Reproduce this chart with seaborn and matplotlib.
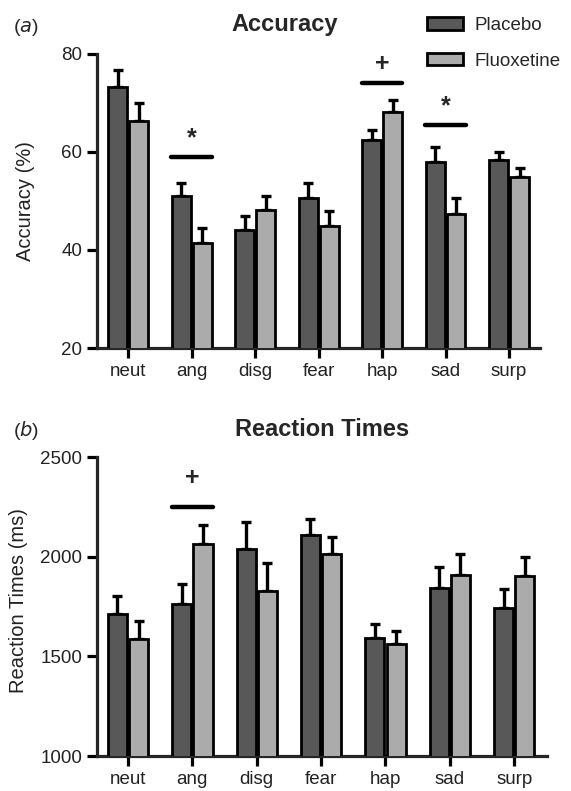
import numpy as np
import pandas as pd
import matplotlib
matplotlib.use("Agg")
import matplotlib.pyplot as plt
import seaborn as sns

# data
emotions = ['neut', 'ang', 'disg', 'fear', 'hap', 'sad', 'surp']
groups = ['Placebo', 'Fluoxetine']

acc_placebo = [73.3, 51.0, 44.1, 50.6, 62.4, 58.0, 58.4]
acc_fluox = [66.3, 41.4, 48.2, 44.9, 68.2, 47.3, 54.9]
acc_placebo_sem = [3.4, 2.7, 2.9, 3.1, 2.1, 3.0, 1.6]
acc_fluox_sem = [3.7, 3.1, 2.8, 3.1, 2.4, 3.3, 1.8]

rt_placebo = [1715, 1765, 2040, 2110, 1590, 1845, 1745]
rt_fluox = [1585, 2065, 1830, 2015, 1560, 1910, 1905]
rt_placebo_sem = [90, 100, 135, 80, 70, 105, 95]
rt_fluox_sem = [90, 95, 140, 85, 65, 105, 95]

# significance marks: emotion, symbol, height of bar
acc_sig_emo = ['ang', 'hap', 'sad']
acc_sig_sym = ['*', '+', '*']
acc_sig_y = [59.0, 74.1, 65.5]
rt_sig_emo = ['ang']
rt_sig_sym = ['+']
rt_sig_y = [2250]

dark = '#585858'
light = '#ababab'

sns.set_style('ticks')
plt.rcParams['font.family'] = ['Liberation Sans', 'DejaVu Sans']
plt.rcParams['axes.linewidth'] = 2.3

fig = plt.figure(figsize=(5.71, 7.91), dpi=100)
ax_a = fig.add_axes([0.170, 0.560, 0.776, 0.372])
ax_b = fig.add_axes([0.170, 0.0442, 0.788, 0.378])


def make_df(p, f, ps, fs):
    return pd.DataFrame({
        'emotion': emotions * 2,
        'group': [groups[0]] * len(emotions) + [groups[1]] * len(emotions),
        'value': p + f,
        'sem': ps + fs,
    })


def draw_panel(ax, df, ylim, yticks, ylabel, xlim):
    sns.barplot(data=df, x='emotion', y='value', hue='group', order=emotions,
                hue_order=groups, palette=[dark, light], edgecolor='black',
                linewidth=2, errorbar=None, width=0.66, gap=0.1, ax=ax,
                legend=True, zorder=3)
    for cont, g in zip(ax.containers, groups):
        sub = df[df.group == g].set_index('emotion').loc[emotions]
        xs = [b.get_x() + b.get_width() / 2 for b in cont]
        ax.errorbar(xs, sub['value'].values,
                    yerr=[np.zeros(len(xs)), sub['sem'].values],
                    fmt='none', ecolor='black', elinewidth=2.4,
                    capsize=3.5, capthick=2.4, zorder=2)
    ax.set_ylim(*ylim)
    ax.set_xlim(*xlim)
    ax.set_yticks(yticks)
    ax.set_xlabel('')
    ax.set_ylabel(ylabel, fontsize=14.5, color='#222222')
    ax.tick_params(axis='both', length=7, width=2.3, labelsize=13.5,
                   colors='black', labelcolor='#222222')
    sns.despine(ax=ax)


def draw_sig(ax, emos, syms, ys, offset):
    for emo, sym, y in zip(emos, syms, ys):
        i = emotions.index(emo)
        ax.plot([i - 0.32, i + 0.32], [y, y], color='black', lw=3.2,
                clip_on=False)
        ax.text(i, y + offset, sym, ha='center', va='center', fontsize=18,
                fontweight='bold', clip_on=False)


df_a = make_df(acc_placebo, acc_fluox, acc_placebo_sem, acc_fluox_sem)
draw_panel(ax_a, df_a, (20, 80), [20, 40, 60, 80], 'Accuracy (%)',
           (-0.49, 6.49))
df_b = make_df(rt_placebo, rt_fluox, rt_placebo_sem, rt_fluox_sem)
draw_panel(ax_b, df_b, (1000, 2500), [1000, 1500, 2000, 2500],
           'Reaction Times (ms)', (-0.48, 6.51))

draw_sig(ax_a, acc_sig_emo, acc_sig_sym, acc_sig_y, 3.8)
draw_sig(ax_b, rt_sig_emo, rt_sig_sym, rt_sig_y, 145)

ax_b.get_legend().remove()
handles, labels = ax_a.get_legend_handles_labels()
ax_a.get_legend().remove()
fig.legend(handles, labels, loc='upper left', bbox_to_anchor=(0.735, 0.988),
           frameon=False, fontsize=13.5, handlelength=1.9, handleheight=0.65,
           labelspacing=1.0, handletextpad=0.6, borderaxespad=0)

ax_a.yaxis.set_label_coords(-0.140, 0.5)
ax_b.yaxis.set_label_coords(-0.153, 0.52)

fig.text(285 / 571, 1 - 25 / 791, 'Accuracy', ha='center', va='center',
         fontsize=17, fontweight='bold')
fig.text(322 / 571, 1 - 430 / 791, 'Reaction Times', ha='center', va='center',
         fontsize=17, fontweight='bold')
fig.text(13 / 571, 1 - 28 / 791, r'($\it{a}$)', ha='left', va='center', fontsize=14)
fig.text(13 / 571, 1 - 430 / 791, r'($\it{b}$)', ha='left', va='center', fontsize=14)

fig.savefig('out.png', dpi=100)
